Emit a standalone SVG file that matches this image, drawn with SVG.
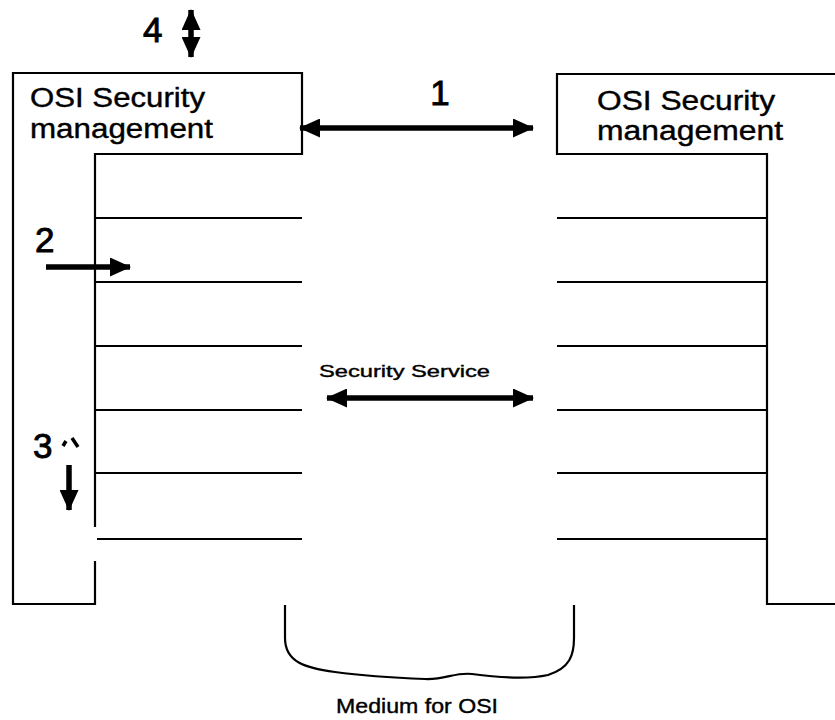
<svg xmlns="http://www.w3.org/2000/svg" width="835" height="720" viewBox="0 0 835 720">
<style>
  .frame{fill:none;stroke:#000;stroke-width:2.2}
  .layer{stroke:#000;stroke-width:2.2}
  .arrow{stroke:#000;stroke-width:5.5;fill:none}
  .t{font-family:"Liberation Sans",Arial,sans-serif;fill:#000;stroke:#000;stroke-width:0.4}
  .num{font-family:"Liberation Sans",Arial,sans-serif;font-size:35px;fill:#000;stroke:#000;stroke-width:0.9}
</style>
<defs>
  <marker id="ah" markerUnits="userSpaceOnUse" markerWidth="21" markerHeight="19" viewBox="0 0 21 19" refX="20" refY="9.5" orient="auto-start-reverse">
    <path d="M0,0 L21,9.5 L0,19 Z" fill="#000"/>
  </marker>
</defs>
<rect width="835" height="720" fill="#fff"/>

<g id="left-stack">
  <path class="frame" d="M95,561 V604 H13 V73 H302 V154 H95 V527"/>
  <line class="layer" x1="95" y1="218" x2="302" y2="218"/>
  <line class="layer" x1="95" y1="282" x2="302" y2="282"/>
  <line class="layer" x1="95" y1="346" x2="302" y2="346"/>
  <line class="layer" x1="95" y1="410" x2="302" y2="410"/>
  <line class="layer" x1="95" y1="473" x2="302" y2="473"/>
  <line class="layer" x1="97" y1="539" x2="302" y2="539"/>
  <text class="t" x="30" y="107" font-size="27" textLength="175" lengthAdjust="spacingAndGlyphs">OSI Security</text>
  <text class="t" x="30" y="138" font-size="27" textLength="183" lengthAdjust="spacingAndGlyphs">management</text>
</g>

<g id="right-stack">
  <path class="frame" d="M835,74 H557 V154 H767 V604 H835"/>
  <line class="layer" x1="557" y1="218" x2="767" y2="218"/>
  <line class="layer" x1="557" y1="282" x2="767" y2="282"/>
  <line class="layer" x1="557" y1="346" x2="767" y2="346"/>
  <line class="layer" x1="557" y1="410" x2="767" y2="410"/>
  <line class="layer" x1="557" y1="473" x2="767" y2="473"/>
  <line class="layer" x1="557" y1="539" x2="767" y2="539"/>
  <text class="t" x="597" y="110" font-size="27" textLength="178" lengthAdjust="spacingAndGlyphs">OSI Security</text>
  <text class="t" x="597" y="140" font-size="27" textLength="186" lengthAdjust="spacingAndGlyphs">management</text>
</g>

<g id="medium">
  <path class="frame" d="M285,605 V638 C285,662 305,668 335,672 C365,676 400,678 425,679 C445,680 455,672 472,674 C495,677 525,680 548,675 C570,668 574,655 574,638 V605"/>
  <text class="t" x="336" y="713" font-size="21" textLength="162" lengthAdjust="spacingAndGlyphs">Medium for OSI</text>
</g>

<g id="connectors">
  <line class="arrow" x1="300" y1="128" x2="533" y2="128" marker-start="url(#ah)" marker-end="url(#ah)"/>
  <line class="arrow" x1="327" y1="398" x2="533" y2="398" marker-start="url(#ah)" marker-end="url(#ah)"/>
  <line class="arrow" x1="46" y1="267" x2="130" y2="267" marker-end="url(#ah)"/>
  <line class="arrow" x1="69" y1="465" x2="69" y2="510" marker-end="url(#ah)"/>
  <line class="arrow" x1="191" y1="10" x2="191" y2="57" marker-start="url(#ah)" marker-end="url(#ah)"/>
  <path d="M63,446 L66,441 M72,438 L78,447" stroke="#000" stroke-width="3.5" fill="none"/>
</g>

<g id="labels">
  <text class="num" x="143" y="42">4</text>
  <text class="num" x="440" y="105" text-anchor="middle">1</text>
  <text class="num" x="35" y="252">2</text>
  <text class="num" x="33" y="458">3</text>
  <text class="t" x="319" y="377" font-size="17" textLength="171" lengthAdjust="spacingAndGlyphs">Security Service</text>
</g>
</svg>
